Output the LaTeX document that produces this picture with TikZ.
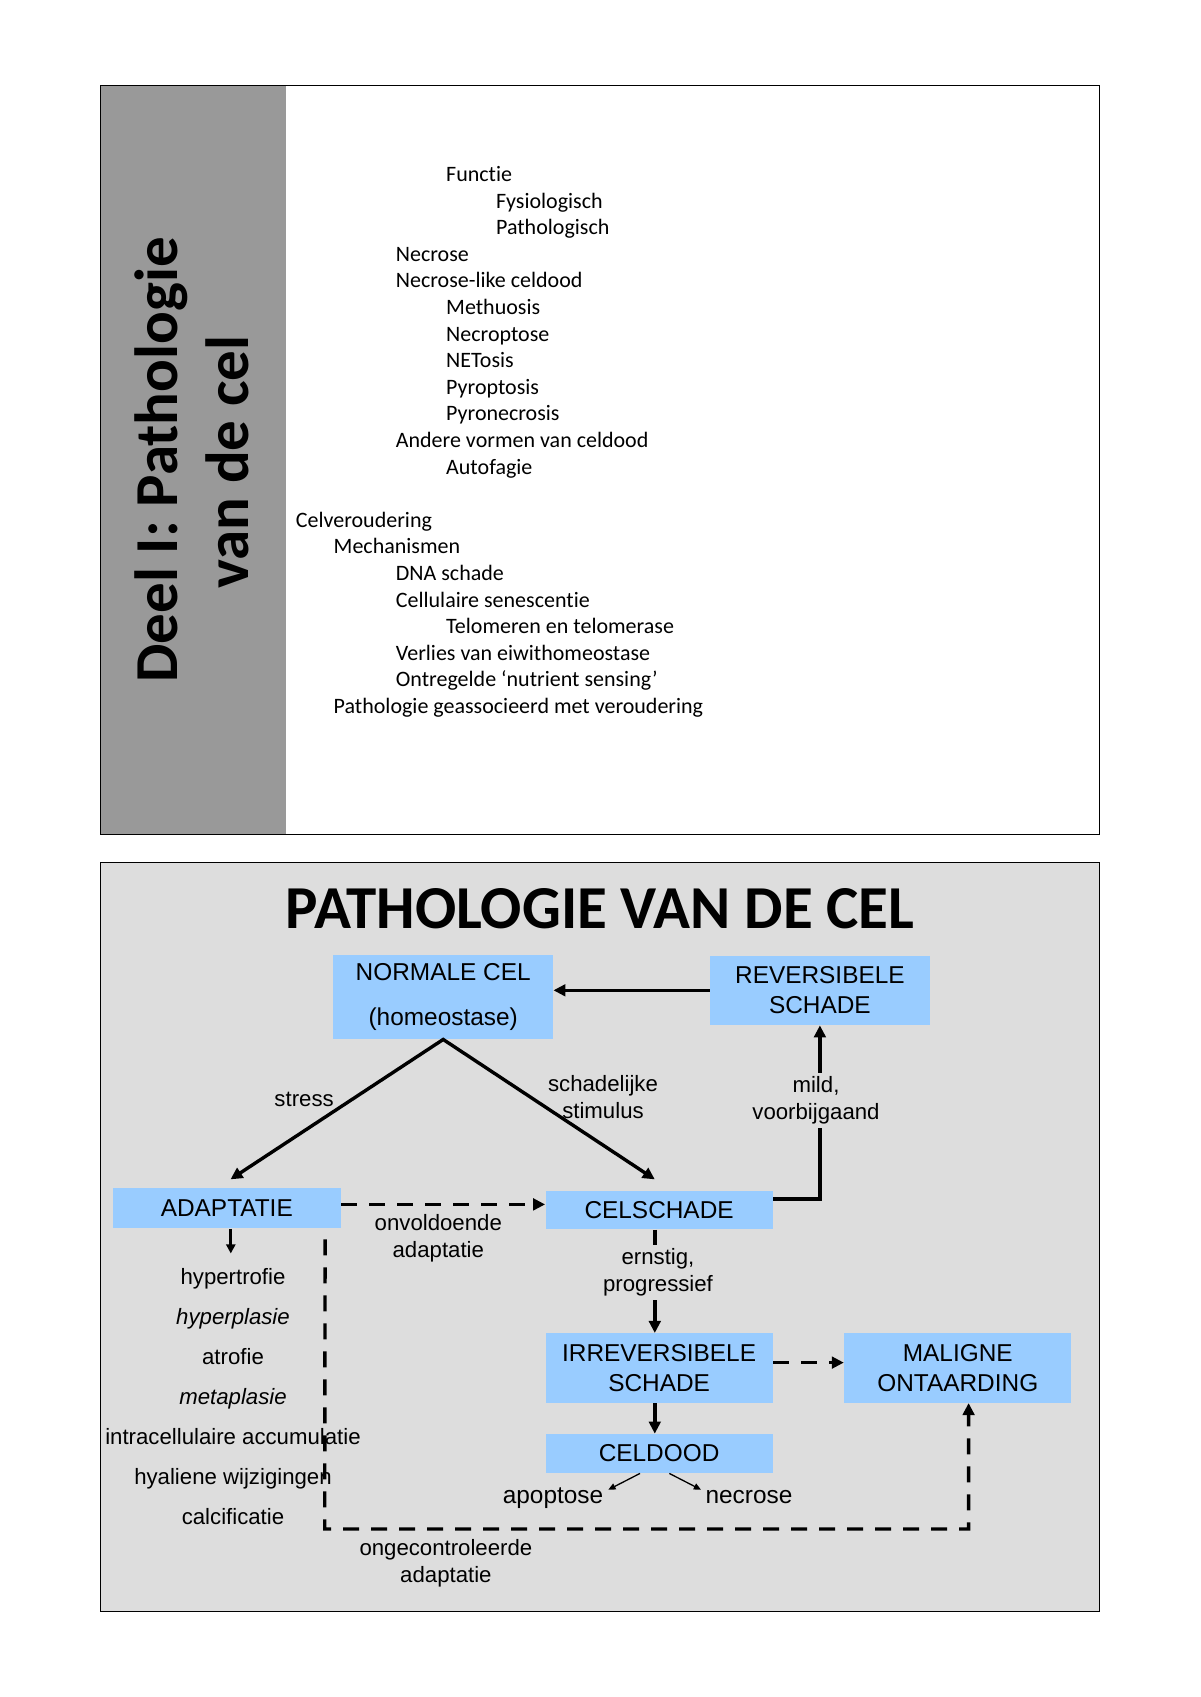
\documentclass[tikz,border=0pt]{standalone}
\usepackage{fontspec}
\setmainfont[Ligatures=NoCommon]{Carlito}
\newfontfamily\arialf{Liberation Sans}
\usetikzlibrary{arrows.meta,calc}
\definecolor{sidegray}{HTML}{999999}
\definecolor{panelgray}{HTML}{DDDDDD}
\definecolor{boxblue}{HTML}{99CCFF}
\begin{document}
\begin{tikzpicture}[x=0.5pt,y=-0.5pt,
  listitem/.style={anchor=base west, inner sep=0pt, font=\fontsize{11}{13}\selectfont},
  blbox/.style={fill=boxblue, inner sep=0pt, align=center, font=\arialf\fontsize{12.2}{15.25}\selectfont},
  lbl/.style={inner sep=0pt, align=center, font=\arialf\fontsize{11.1}{13.5}\selectfont},
  biglbl/.style={inner sep=0pt, anchor=base, font=\arialf\fontsize{12.2}{15}\selectfont},
  mainarr/.style={line width=1.7pt, -{Triangle[length=6pt,width=5.8pt]}},
  dasharr/.style={line width=1.7pt, dash pattern=on 8pt off 6pt, -{Triangle[length=6pt,width=5.8pt]}},
  smallarr/.style={line width=1.35pt, -{Triangle[length=4.6pt,width=4.6pt]}},
  thinarr/.style={line width=0.65pt, -{Triangle[length=3.6pt,width=3.2pt]}},
  ttl/.style={inner sep=0pt, font=\bfseries\fontsize{30.5}{36}\selectfont}
]
\useasboundingbox (0,0) rectangle (1200,1697);
\fill[white] (0,0) rectangle (1200,1697);

% ---------- top panel ----------
\fill[sidegray] (100.6,85.5) rectangle (285.7,834.4);
\draw[line width=0.7pt] (100.6,85.5) rectangle (1099.6,834.4);
\node[ttl, rotate=90, anchor=base] (title1) at (177,460) {Deel I: Pathologie};
\node[ttl, rotate=90, anchor=base] (title2) at (248,462) {van de cel};

\foreach \x/\i/\t in {
  445.8/0/Functie,
  495.7/1/Fysiologisch,
  495.7/2/Pathologisch,
  395.5/3/Necrose,
  395.5/4/Necrose-like celdood,
  445.8/5/Methuosis,
  445.8/6/Necroptose,
  445.8/7/NETosis,
  445.8/8/Pyroptosis,
  445.8/9/Pyronecrosis,
  395.5/10/Andere vormen van celdood,
  445.8/11/Autofagie,
  295.5/13/Celveroudering,
  333.3/14/Mechanismen,
  395.5/15/DNA schade,
  395.5/16/Cellulaire senescentie,
  445.8/17/Telomeren en telomerase,
  395.5/18/Verlies van eiwithomeostase,
  395.5/19/Ontregelde ‘nutrient sensing’,
  333.3/20/Pathologie geassocieerd met veroudering}
  \node[listitem] (li\i) at (\x,{181.5+26.6*\i}) {\t};

% ---------- bottom panel ----------
\fill[panelgray] (100.6,862.6) rectangle (1099.6,1611.5);
\draw[line width=0.7pt] (100.6,862.6) rectangle (1099.6,1611.5);
\node[ttl, anchor=base] (maintitle) at (600.1,928) {PATHOLOGIE VAN DE CEL};

\node[blbox, minimum width=109.85pt, minimum height=42.25pt,
      font=\arialf\fontsize{12.2}{22.25}\selectfont] (NORMALE) at (443.2,996.8) {NORMALE CEL\\(homeostase)};
\node[blbox, minimum width=109.85pt, minimum height=34.65pt] (REV) at (819.9,990.3) {REVERSIBELE\\SCHADE};
\node[blbox, minimum width=114.2pt, minimum height=20.05pt] (ADAPTATIE) at (226.8,1208.4) {ADAPTATIE};
\node[blbox, minimum width=113.6pt, minimum height=19.45pt] (CELSCHADE) at (659.1,1210) {CELSCHADE};
\node[blbox, minimum width=113.6pt, minimum height=34.65pt] (IRREV) at (659.1,1368) {IRREVERSIBELE\\SCHADE};
\node[blbox, minimum width=113.6pt, minimum height=34.65pt] (MALIGNE) at (957.8,1368) {MALIGNE\\ONTAARDING};
\node[blbox, minimum width=113.6pt, minimum height=19.5pt] (CELDOOD) at (659.1,1453.5) {CELDOOD};

% adaptation list
\foreach \k/\t in {0/hypertrofie, 1/\textit{hyperplasie}, 2/atrofie, 3/\textit{metaplasie},
  4/intracellulaire accumulatie, 5/hyaliene wijzigingen, 6/calcificatie}
  \node[lbl, anchor=base] (ad\k) at (233,{1284.7+40*\k}) {\t};

\node[lbl, anchor=base] (stress) at (304.1,1106.5) {stress};
\node[lbl] (schad) at (603,1097.2) {schadelijke\\stimulus};
\node[lbl] (onvold) at (438.3,1238.7) {onvoldoende\\adaptatie};
\node[lbl] (ongec) at (445.9,1563) {ongecontroleerde\\adaptatie};
\node[biglbl] (apop) at (553,1503.5) {apoptose};
\node[biglbl] (necr) at (749,1503.5) {necrose};

% ---------- connectors ----------
\draw[mainarr] (REV.west) -- (REV.west -| NORMALE.east);
\coordinate (tipA) at ([xshift=1.85pt,yshift=4.3pt]ADAPTATIE.north);
\coordinate (tipC) at ([xshift=-2.15pt,yshift=5.4pt]CELSCHADE.north);
\draw[line width=1.7pt, {Triangle[length=6pt,width=5.8pt]}-{Triangle[length=6pt,width=5.8pt]}]
  (tipA) -- (NORMALE.south) -- (tipC);
\coordinate (cs) at ([yshift=5.5pt]CELSCHADE.east);
\draw[mainarr] (cs) -| (REV.south);
\draw[mainarr] ([xshift=-2.15pt]CELSCHADE.south) -- ([xshift=-2.15pt]IRREV.north);
\draw[mainarr] ([xshift=-2.15pt]IRREV.south) -- ([xshift=-2.15pt]CELDOOD.north);
\coordinate (adtip) at ([xshift=2pt,yshift=-12.3pt]ADAPTATIE.south);
\draw[smallarr] ([xshift=2pt]ADAPTATIE.south) -- (adtip);
\coordinate (dA) at ([yshift=2pt]ADAPTATIE.east);
\draw[dasharr] (dA) -- (dA -| CELSCHADE.west);
\coordinate (dI) at ([yshift=2.7pt]IRREV.east);
\draw[dasharr] (dI) -- (dI -| MALIGNE.west);
\coordinate (dl1) at ([xshift=-8.15pt,yshift=-5.3pt]ADAPTATIE.south east);
\coordinate (dlb) at (324.7,1529);
\draw[dasharr] (dl1) -- (dlb) -| ([xshift=5.4pt]MALIGNE.south);
\coordinate (apT) at ([xshift=-25.4pt,yshift=-8.15pt]CELDOOD.south);
\draw[thinarr] ([xshift=-9.55pt]CELDOOD.south) -- (apT);
\coordinate (neT) at ([xshift=20.95pt,yshift=-8.15pt]CELDOOD.south);
\draw[thinarr] ([xshift=5.1pt]CELDOOD.south) -- (neT);

% labels that interrupt connectors
\node[lbl, fill=panelgray, inner sep=2pt] (mild) at (816,1100.4) {mild,\\voorbijgaand};
\node[lbl, fill=panelgray, inner sep=2pt] (ernst) at (658,1272.5) {ernstig,\\progressief};
\end{tikzpicture}
\end{document}
